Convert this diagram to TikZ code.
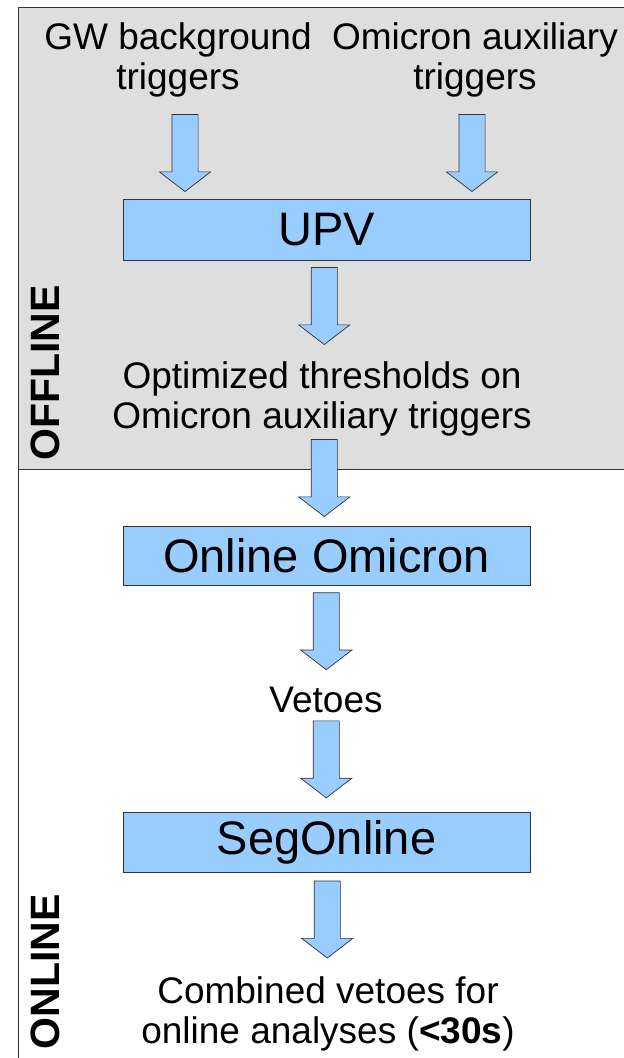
\documentclass[tikz,border=0pt]{standalone}
\usepackage{fontspec}
\setmainfont{Liberation Sans}
\usepackage{tikz}
\usetikzlibrary{shapes.arrows}
\definecolor{panelgray}{rgb}{0.87, 0.87, 0.87}
\definecolor{skyblue}{rgb}{0.6, 0.8, 1.0}
\definecolor{edgegray}{rgb}{0.2, 0.2, 0.2}

\begin{document}
\begin{tikzpicture}[x=1pt,y=-1pt,
  txt/.style={align=center,inner sep=2pt,font=\fontsize{37}{40}\selectfont},
  stagebox/.style={draw=edgegray,fill=skyblue,line width=0.9pt,minimum width=407pt,inner sep=0pt,font=\fontsize{47}{50}\selectfont},
  side/.style={rotate=90,font=\fontsize{41}{44}\selectfont\bfseries},
  blkarrow/.style={single arrow,draw=edgegray,fill=skyblue,line width=0.7pt,shape border rotate=270,
    minimum height=77pt,minimum width=50.5pt,single arrow head extend=12.5pt,
    single arrow tip angle=105,inner sep=12.75pt}]
  \useasboundingbox (0,0) rectangle (624,1058);

  % offline / online panels
  \draw [draw=edgegray,fill=panelgray,line width=0.9pt] (18,7) rectangle (640,469);
  \draw [draw=edgegray,line width=0.9pt] (18,469) -- (18,1070);
  \node [side] (offl) at (45,373) {OFFLINE};
  \node [side] (onl) at (45,972) {ONLINE};

  % inputs
  \node [txt] (gwtrig) at (178,60) {GW background\\triggers};
  \node [txt] (omtrig) at (475,60) {Omicron auxiliary\\triggers};

  \node [stagebox,minimum height=61pt] (upv) at (326.5,229.5) {UPV};
  \node [txt] (optthr) at (322,399) {Optimized thresholds on\\Omicron auxiliary triggers};
  \node [stagebox,minimum height=59pt] (omicron) at (326.5,555.5) {Online Omicron};
  \node [txt] (vetoes) at (326,700) {Vetoes};
  \node [stagebox,minimum height=60pt] (segonl) at (326.5,842) {SegOnline};
  \node [txt] (combined) at (328,1014) {Combined vetoes for\\online analyses (\textbf{<30s})};

  \path (gwtrig.south) -- (upv.north -| gwtrig.south) node[midway,blkarrow,xshift=7pt,yshift=1pt]{};
  \path (omtrig.south) -- (upv.north -| omtrig.south) node[midway,blkarrow,xshift=-3pt,yshift=1pt]{};

  \foreach \from/\to in
  {
    upv/optthr,
    optthr/omicron,
    omicron/vetoes,
    vetoes/segonl,
    segonl/combined}
  {
   \path (\from.south) -- (\to.north) node[midway,blkarrow,yshift=9pt]{};
  }

\end{tikzpicture}
\end{document}
